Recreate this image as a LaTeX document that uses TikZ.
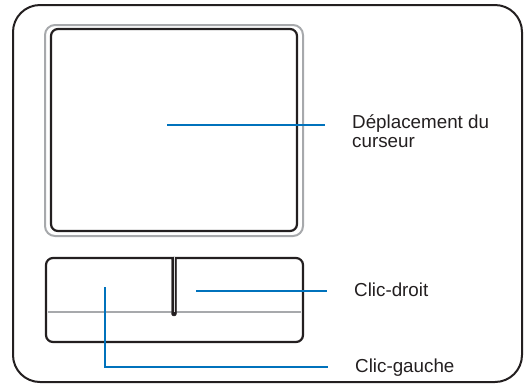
\documentclass[tikz,border=0pt]{standalone}
\usepackage{fontspec}
\setmainfont{Liberation Sans}
\usetikzlibrary{positioning,calc}
\definecolor{ink}{HTML}{231F20}
\definecolor{asusblue}{HTML}{0072BC}
\definecolor{rimgray}{HTML}{A7A9AC}
\tikzset{frame/.style={draw=ink,line width=2pt,rounded corners=27pt},pad/.style={draw=ink,line width=2.2pt,rounded corners=7pt},leader/.style={draw=asusblue,line width=2pt,shorten >=27pt},lbl/.style={anchor=base west,inner sep=0pt,text=ink,align=left,font=\fontsize{18.8}{19}\selectfont}}

\begin{document}
\begin{tikzpicture}[x=1pt,y=-1pt]
\useasboundingbox (0,0) rectangle (525,384);
\draw[frame] (13,5) rectangle (522,382);
% touchpad
\draw[draw=rimgray,line width=2pt,rounded corners=10pt] (45,25) rectangle (303,236);
\draw[pad] (51,29) rectangle (297,231);
% buttons
\draw[pad] (46,258) rectangle (303,342);
\draw[rimgray,line width=2.2pt] (48,312) -- (301,312);
\draw[ink,fill=ink,rounded corners=2.4pt] (171.5,257) rectangle (176.5,316);
\draw[rimgray!40,line width=1pt] (174,256) -- (174,312);
\coordinate (cursor) at (167,125);
\coordinate (rightbtn) at (196,291);
\coordinate (leftbtn) at (105,287);
\node[lbl] (move) at (352,147) {Déplacement du\\curseur};
\node[lbl] (rclick) at (354,296) {Clic-droit};
\node[lbl] (lclick) at (355,372) {Clic-gauche};
\draw[leader] (cursor) -- (cursor -| move.west);
\draw[leader] (rightbtn) -- (rightbtn -| rclick.west);
\draw[leader] (leftbtn) |- (lclick.west);
\end{tikzpicture}
\end{document}
